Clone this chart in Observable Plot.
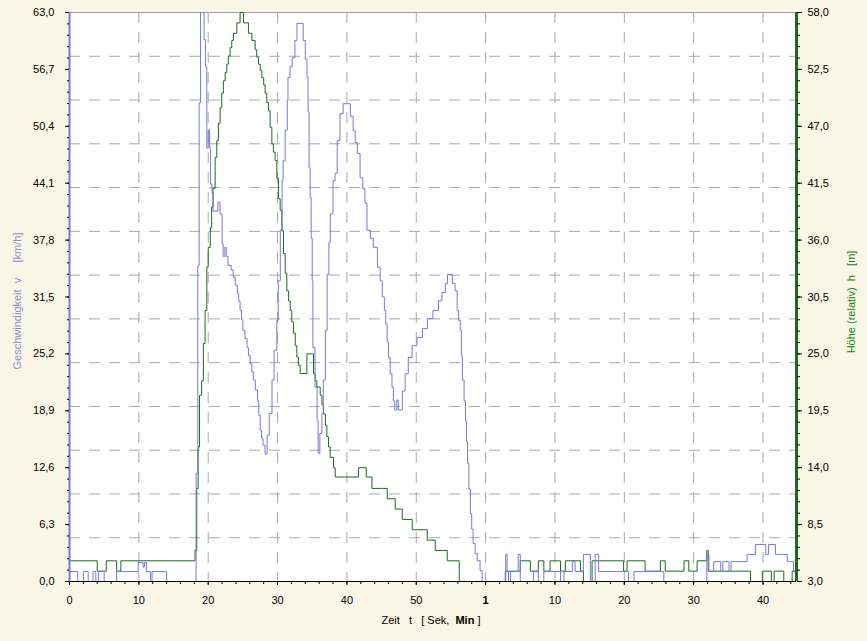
<!DOCTYPE html>
<html><head><meta charset="utf-8">
<script src="https://cdn.jsdelivr.net/npm/d3@7"></script>
<script src="https://cdn.jsdelivr.net/npm/@observablehq/plot@0.6"></script>
<style>
body{margin:0;background:#f8f6e4;}
#chart{position:relative;width:867px;height:641px;}
svg text{white-space:pre;}
</style></head><body><div id="chart"></div>
<script>
// ---------- data ----------
// speed v [km/h] over time t [s]  (step series)
const speedT = [0,1.2,2.0,2.7,3.4,3.8,4.2,5.0,6.8,9.9,10.6,10.8,11.1,11.7,11.9,14.0,
 18.25,18.5,18.7,18.9,19.4,19.6,19.8,20.0,20.2,20.35,20.55,20.7,21.4,21.7,22.0,22.15,22.4,22.6,22.85,23.3,23.6,23.9,24.2,24.4,24.6,24.8,25.0,25.3,25.6,25.8,26.05,26.3,26.5,26.8,27.1,27.3,27.5,27.7,27.9,28.2,28.5,28.8,29.2,29.5,29.9,30.1,30.4,30.65,30.8,31.1,31.4,31.5,31.8,32.1,32.5,32.8,33.7,34.0,34.25,34.4,34.55,34.7,34.85,35.0,35.1,35.4,35.7,35.85,36.1,36.4,36.6,36.9,37.15,37.4,37.6,38.0,38.3,38.6,39.0,39.45,40.5,40.9,41.2,41.5,41.9,42.3,42.6,42.9,43.4,43.8,44.4,44.8,45.1,45.4,45.6,45.8,46.0,46.25,46.5,46.7,46.9,47.2,47.4,48.0,48.4,48.85,49.4,50.1,50.9,51.6,52.4,53.2,53.7,54.2,54.5,55.2,55.6,55.9,56.1,56.35,56.5,56.65,56.9,57.1,57.25,57.4,57.6,57.8,58.0,58.2,58.5,58.8,59.2,59.5,
 62.9,63.1,63.3,63.6,64.7,65.0,66.9,67.6,68.4,70.8,71.3,72.5,72.9,74.1,75.1,75.8,76.3,80.6,81.4,85.7,91.9,92.2,92.9,93.9,94.2,95.1,95.4,97.7,98.9,100.4,100.8,101.8,103.5,104.4,104.83];
const speedV = [1.1,0,1.1,0,1.1,0,1.1,0,1.1,2.1,1.6,2.1,1.1,0,1.1,0,
 12,35,53,64,60,57,48,50,48,44,43,41,42,40.7,37.4,36,37,36,35,34.5,33.7,32.8,31.9,31,30,29,27.8,26.9,25.9,25,24.1,23.2,22.3,21.2,20,18.4,16.7,15.9,15.1,14.1,16.2,18.6,22.3,25.6,28.9,33.3,38.9,44.4,46.6,50,53.3,55.8,57,58,59.9,61.8,59.9,57.8,55.8,52,45.8,42.5,38,33.3,25.9,21.5,17.8,14.2,16.4,18.6,22.3,27.8,34,37.5,40.7,44.4,45.2,48.8,51.8,52.9,51.5,49.9,48.6,47.4,44.7,43.5,41.9,38.9,38,37,34.8,33.3,31.5,30,28.5,26.5,24.8,23,21.5,20,19,20.1,19,21.1,23,24.8,26.1,27,28,29.1,30,31.1,32,33,34,33,32.2,30,28.9,27.8,25,22.3,20,17.8,15.5,13.1,10.2,7.5,5.8,4.2,3.1,2.3,1.2,0,
 3.0,1.1,0,1.1,3.0,0,1.1,0,1.1,0,1.1,2.2,1.1,3.0,0,3.0,1.1,0,1.1,0,3.0,1.1,2.2,1.1,2.2,1.1,2.2,3.0,4.1,3.0,4.1,3.0,2.2,1.1,1.1];

// height h (relative) [m] over time t [s]  (step series)
const heightT = [0,4.0,5.3,6.8,7.4,18.1,18.35,18.55,18.75,19.05,19.3,19.55,19.8,20.0,20.3,20.5,20.7,21.0,21.24,21.47,21.72,21.96,22.19,22.45,22.68,22.9,23.16,23.4,23.64,24.13,24.6,25.1,25.8,26.3,26.77,27.0,27.24,27.5,27.73,28.0,28.21,28.45,28.69,28.93,29.18,29.4,29.65,29.9,30.13,30.38,30.62,30.85,31.1,31.34,31.6,31.82,32.05,32.29,32.55,32.78,33.0,33.26,34.23,35.18,35.43,35.67,36.15,36.4,36.62,36.9,37.11,37.35,37.59,38.07,38.31,41.67,42.79,43.61,45.82,46.97,47.98,49.42,51.59,52.74,54.47,56.2,
 62.84,65.0,66.45,67.6,68.4,69.3,70.8,71.5,73.7,74.1,75.35,79.9,80.4,83.0,85.2,85.9,88.6,89.3,90.5,91.9,92.1,98.2,99.9,101.2,101.6,103.0,104.2,104.83];
const heightH = [5,4,5,4,5,6,12,16,21,22.4,26,29.2,33.4,35.3,37.2,39.2,41,44,45.6,47.3,48.8,50.2,51.4,52.2,53,53.8,54.6,55.3,56,57,58,57,56,55.3,54.4,53.7,53,52.4,51.7,51,50.2,49.3,48.5,46.9,45.3,44.5,43.7,42,40,38.9,36.9,34.7,32.8,31.1,30.1,29.2,28.1,27,25.8,24.7,23.9,23.1,25,23.1,22.4,21.8,21,20.1,19.2,18.1,17,16,15,14,13.1,14,13.1,12,11,10,9,8,7,6,5,3,
 4,5,4,5,4,5,4,5,4,3,5,4,5,4,5,4,5,4,5,6,4,3,4,3,4,3,4,4];

// axes
const tMax = 104.83;
const vTicks = [0,6.3,12.6,18.9,25.2,31.5,37.8,44.1,50.4,56.7,63];
const vTickLabels = ["0,0","6,3","12,6","18,9","25,2","31,5","37,8","44,1","50,4","56,7","63,0"];
const hMin = 3, hMax = 58;
const hTicks = [3,8.5,14,19.5,25,30.5,36,41.5,47,52.5,58];
const hTickLabels = ["3,0","8,5","14,0","19,5","25,0","30,5","36,0","41,5","47,0","52,5","58,0"];
const tTicks = [0,10,20,30,40,50,60,70,80,90,100];
const tTickLabels = ["0","10","20","30","40","50","1","10","20","30","40"];
const gridDivisions = 13;

const leftTitle = "Geschwindigkeit  v     [km/h]";
const rightTitle = "Höhe (relativ)  h   [m]";
const xTitle = ["Zeit   t   [ Sek,  ", "Min", " ]"];

// ---------- build ----------
const blue = "#7878d8", green = "#1a6b1a";
const vMax = vTicks[vTicks.length - 1];
const toV = h => (h - hMin) * vMax / (hMax - hMin);
const speed = speedT.map((t, i) => ({t, v: speedV[i]}));
const height = heightT.map((t, i) => ({t, v: toV(heightH[i])}));
const hTickPos = hTicks.map(toV);
const yGrid = d3.range(1, gridDivisions).map(i => i * vMax / gridDivisions);
const vMinor = d3.range(0, 51).map(i => i * vMax / 50);
const tMinor = d3.range(0, 105, 2);
const tMain = tTicks.filter(t => t !== 60);

const plot = Plot.plot({
  width: 867, height: 641,
  marginLeft: 69, marginRight: 71, marginTop: 12, marginBottom: 60,
  style: {fontFamily: "'Liberation Sans', Arial, sans-serif", fontSize: "11px", background: "transparent", color: "#000", overflow: "visible"},
  x: {domain: [0, tMax]},
  y: {domain: [0, vMax]},
  marks: [
    Plot.frame({fill: "white", stroke: "none"}),
    Plot.gridX({ticks: tTicks.filter(t => t > 0), stroke: "#a8a8a8", strokeOpacity: 1, strokeDasharray: "11,9"}),
    Plot.gridY({ticks: yGrid, stroke: "#a8a8a8", strokeOpacity: 1, strokeDasharray: "11,9"}),
    Plot.ruleY([vMax], {stroke: "#a0a0a0"}),
    Plot.line(height, {x: "t", y: "v", curve: "step-after", stroke: green, strokeWidth: 1, clip: true}),
    Plot.line(speed, {x: "t", y: "v", curve: "step-after", stroke: blue, strokeWidth: 1, clip: true}),
    Plot.ruleY([0], {stroke: "#000"}),
    Plot.ruleX([0], {stroke: blue, strokeWidth: 2}),
    Plot.ruleX([tMax], {stroke: green, strokeWidth: 3}),
    // left axis
    Plot.axisY({ticks: vMinor, tickSize: 2, tickFormat: () => "", label: null}),
    Plot.axisY({ticks: vTicks, tickSize: 4, tickPadding: 11, tickFormat: d => vTickLabels[vTicks.indexOf(d)], label: null}),
    // right axis
    Plot.axisY({anchor: "right", ticks: vMinor, tickSize: 3, tickFormat: () => "", label: null}),
    Plot.axisY({anchor: "right", ticks: hTickPos, tickSize: 5, tickPadding: 6, tickFormat: d => hTickLabels[hTickPos.indexOf(d)], label: null}),
    // x axis
    Plot.axisX({ticks: tMinor, tickSize: 3, tickFormat: () => "", label: null}),
    Plot.axisX({ticks: tMain, tickSize: 4, tickPadding: 11, tickFormat: d => tTickLabels[tTicks.indexOf(d)], label: null}),
    Plot.axisX({ticks: [60], tickSize: 4, tickPadding: 11, fontWeight: "bold", tickFormat: d => tTickLabels[tTicks.indexOf(d)], label: null}),
    // titles
    Plot.text([leftTitle], {frameAnchor: "left", text: d => d, rotate: -90, dx: -52, dy: 4, fill: "#8c8cd8", textAnchor: "middle"}),
    Plot.text([rightTitle], {frameAnchor: "right", text: d => d, rotate: -90, dx: 55, dy: 5, fill: "#208020", textAnchor: "middle"})
  ]
});

const svg = d3.select(plot);
const xt = svg.append("text").attr("x", 431).attr("y", 624).attr("text-anchor", "middle").attr("fill", "#000");
xt.append("tspan").text(xTitle[0]);
xt.append("tspan").attr("font-weight", "bold").text(xTitle[1]);
xt.append("tspan").text(xTitle[2]);

document.getElementById("chart").appendChild(plot);
</script></body></html>
